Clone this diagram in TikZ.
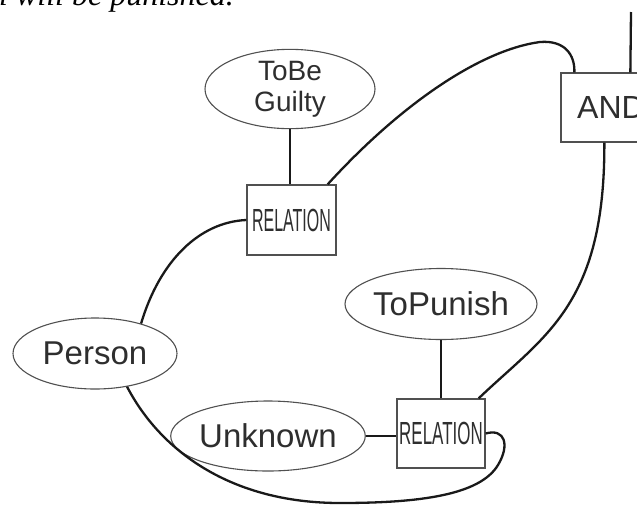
\documentclass[tikz,border=0pt]{standalone}
\usepackage{fontspec}
\usepackage{graphicx}
\usetikzlibrary{shapes.geometric}
\setmainfont{Liberation Serif}
\newfontfamily\labelfont{Liberation Sans}
\definecolor{ink}{HTML}{2E2E2E}
\definecolor{rim}{HTML}{505050}
\begin{document}
\begin{tikzpicture}[x=1pt,y=-1pt,
  concept/.style={ellipse, draw=rim, line width=1.1pt, inner sep=0pt,
    text=ink, font=\labelfont\fontsize{33}{33}\selectfont},
  relbox/.style={rectangle, draw=rim, line width=1.3pt, inner sep=0pt,
    minimum width=88pt, minimum height=69pt, text=ink,
    font=\labelfont\fontsize{32}{32}\selectfont},
  link/.style={draw=black!90, line width=2.3pt}]
\useasboundingbox (0,0) rectangle (637,507);
\clip (0,0) rectangle (637,507);

% sentence above the graph
\node[anchor=base west, inner sep=0pt, font=\itshape\fontsize{32}{32}\selectfont]
  (caption) at (-1,5.5) {l will be punished.};

% concepts
\node[concept, minimum width=170pt, minimum height=68pt, align=center,
  font=\labelfont\fontsize{28}{31}\selectfont] (tobe) at (290,89) {ToBe\\Guilty};
\node[concept, minimum width=173pt, minimum height=71pt] (topunish) at (441,304) {ToPunish};
\node[concept, minimum width=164pt, minimum height=71pt] (person) at (95,353.5) {Person};
\node[concept, minimum width=170pt, minimum height=70pt] (unknown) at (268,436) {Unknown};

% relations
\node[relbox, minimum width=89pt, minimum height=70pt] (r1) at (291.5,220)
  {\scalebox{0.5}[1]{RELATION}};
\node[relbox] (r2) at (441,433.5) {\scalebox{0.53}[1]{RELATION}};
\node[relbox, minimum width=100pt] (and) at (611,107.5) {AND};

\coordinate (andtop) at (631,12);

% connectors
\draw[link] (tobe.south) -- (tobe.south |- r1.north);
\draw[link] ([xshift=-9pt]r1.north east) .. controls (400,105) and (480,50) .. (540,42)
  .. controls (565,40) and (575,55) .. ([xshift=14pt]and.north west);
\draw[link] ([xshift=70pt]and.north west) -- (andtop);
\draw[link] (person.33) .. controls (160,260) and (200,222) .. (r1.west);
\draw[link] ([xshift=-7pt]r2.north east) .. controls (545,335) and (605,305)
  .. ([xshift=44pt]and.south west);
\draw[link] (topunish.south) -- (topunish.south |- r2.north);
\draw[link] (unknown.east) -- (unknown.east -| r2.west);
\draw[link] (person.-46) .. controls (160,450) and (230,503) .. (340,503)
  .. controls (420,503) and (480,495) .. (498,465)
  .. controls (510,445) and (505,428) .. (r2.east);
\end{tikzpicture}
\end{document}
